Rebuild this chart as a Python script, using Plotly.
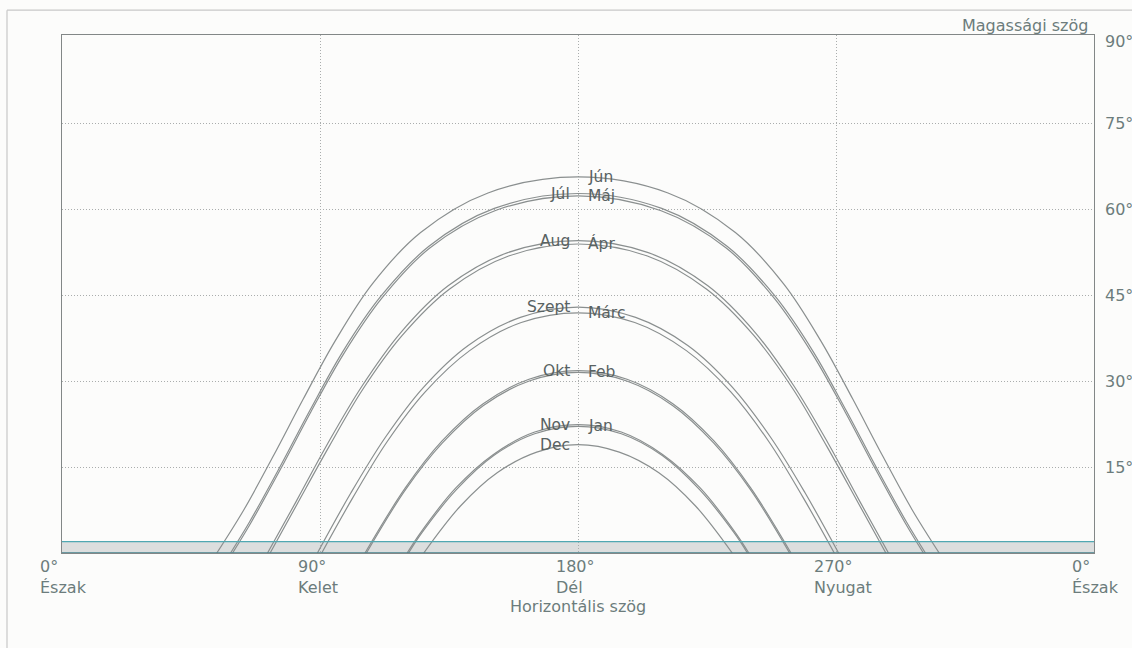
import plotly.graph_objects as go

# Sun path data: morning half (sunrise -> noon), azimuth (deg) and altitude (deg)
months = ["Jún", "Júl", "Máj", "Aug", "Ápr", "Szept", "Márc", "Okt", "Feb", "Nov", "Jan", "Dec"]
label_side = ["right", "left", "right", "left", "right", "left", "right", "left", "right", "left", "right", "left"]

jun_az = [54.0, 63.5, 73.8, 84.2, 95.3, 108.2, 125.1, 148.6, 180]
jun_alt = [0, 7.6, 17.0, 26.9, 37.0, 46.9, 55.9, 62.8, 65.6]
jul_az = [58.8, 65.4, 75.9, 86.5, 97.8, 111.1, 128.0, 150.8, 180]
jul_alt = [0, 5.4, 14.9, 24.9, 35.0, 44.7, 53.5, 60.1, 62.7]
maj_az = [59.5, 65.7, 76.2, 86.8, 98.2, 111.5, 128.3, 151.0, 180]
maj_alt = [0, 5.1, 14.6, 24.6, 34.7, 44.4, 53.2, 59.7, 62.3]
aug_az = [71.7, 81.7, 92.7, 104.5, 118.1, 134.7, 155.5, 180]
aug_alt = [0, 9.0, 19.1, 29.0, 38.4, 46.6, 52.4, 54.5]
apr_az = [72.6, 82.1, 93.2, 105.0, 118.6, 135.1, 155.8, 180]
apr_alt = [0, 8.6, 18.6, 28.6, 37.9, 46.0, 51.8, 53.9]
szept_az = [89.1, 100.8, 112.7, 126.1, 141.7, 159.9, 180]
szept_alt = [0, 10.5, 20.1, 28.9, 36.2, 41.1, 42.9]
marc_az = [90.6, 101.5, 113.4, 126.7, 142.2, 160.2, 180]
marc_alt = [0, 9.7, 19.4, 28.1, 35.3, 40.2, 41.9]
okt_az = [105.7, 119.7, 132.5, 146.8, 162.9, 180]
okt_alt = [0, 11.3, 19.5, 26.0, 30.3, 31.8]
feb_az = [106.2, 119.9, 132.7, 146.9, 163.0, 180]
feb_alt = [0, 11.1, 19.2, 25.7, 30.0, 31.5]
nov_az = [120.4, 125.3, 137.3, 150.5, 164.9, 180]
nov_alt = [0, 3.7, 11.3, 17.2, 21.1, 22.4]
jan_az = [120.9, 125.5, 137.5, 150.6, 164.9, 180]
jan_alt = [0, 3.5, 11.0, 17.0, 20.8, 22.1]
dec_az = [126.2, 139.0, 151.8, 165.6, 180]
dec_alt = [0, 8.2, 14.0, 17.6, 18.9]

all_az = [jun_az, jul_az, maj_az, aug_az, apr_az, szept_az, marc_az, okt_az, feb_az, nov_az, jan_az, dec_az]
all_alt = [jun_alt, jul_alt, maj_alt, aug_alt, apr_alt, szept_alt, marc_alt, okt_alt, feb_alt, nov_alt, jan_alt, dec_alt]

x_ticks = [0, 90, 180, 270, 360]
x_tick_deg = ["0°", "90°", "180°", "270°", "0°"]
x_tick_names = ["Észak", "Kelet", "Dél", "Nyugat", "Észak"]
y_ticks = [15, 30, 45, 60, 75, 90]
horizon_band = [0, 2]

FONT = "DejaVu Sans"
TXT = "rgb(108,124,124)"
LBL = "rgb(88,98,98)"
CURVE = "rgb(138,143,143)"
GRID = "rgb(170,173,173)"

fig = go.Figure()

for name, az, alt in zip(months, all_az, all_alt):
    xs = list(az) + [360 - a for a in reversed(az[:-1])]
    ys = list(alt) + list(reversed(alt[:-1]))
    fig.add_trace(go.Scatter(x=xs, y=ys, mode="lines", line=dict(color=CURVE, width=1.2, shape="spline", smoothing=1.0),
                             hoverinfo="skip", showlegend=False))

# horizon band
fig.add_shape(type="rect", xref="x", yref="y", x0=0, x1=360, y0=horizon_band[0], y1=horizon_band[1],
              fillcolor="rgba(210,212,212,0.75)", line=dict(width=0), layer="below")
fig.add_shape(type="line", xref="x", yref="y", x0=0, x1=360, y0=horizon_band[1], y1=horizon_band[1],
              line=dict(color="rgb(80,168,178)", width=1.3))
fig.add_shape(type="line", xref="x", yref="y", x0=0, x1=360, y0=horizon_band[0], y1=horizon_band[0],
              line=dict(color="rgb(70,130,140)", width=1.3))

# outer page border (left and top)
fig.add_shape(type="line", xref="paper", yref="paper", x0=-0.0533, x1=1.1, y0=1.048, y1=1.048,
              line=dict(color="rgb(200,200,200)", width=1.2))
fig.add_shape(type="line", xref="paper", yref="paper", x0=-0.0533, x1=-0.0533, y0=1.048, y1=-0.3,
              line=dict(color="rgb(200,200,200)", width=1.2))

ann = []
for name, side, alt in zip(months, label_side, all_alt):
    if side == "right":
        ann.append(dict(x=180, y=alt[-1], xref="x", yref="y", text=name, showarrow=False,
                        xanchor="left", yanchor="middle", xshift=8, font=dict(family=FONT, size=15.5, color=LBL)))
    else:
        ann.append(dict(x=180, y=alt[-1], xref="x", yref="y", text=name, showarrow=False,
                        xanchor="right", yanchor="middle", xshift=-6, font=dict(family=FONT, size=15.5, color=LBL)))

for xv, d, n in zip(x_ticks, x_tick_deg, x_tick_names):
    ann.append(dict(x=xv, y=-0.0464, xref="x", yref="paper", text=f"{d}<br>{n}", showarrow=False,
                    xanchor="left", yanchor="middle", align="left", xshift=-24,
                    font=dict(family=FONT, size=16, color=TXT)))

ann.append(dict(x=180, y=-0.0985, xref="x", yref="paper", text="Horizontális szög", showarrow=False,
                xanchor="center", yanchor="middle", yshift=-2, font=dict(family=FONT, size=16, color=TXT)))

for yv in y_ticks:
    ann.append(dict(x=1.0087, y=yv, xref="paper", yref="y", text=f"{yv}°", showarrow=False, xanchor="left",
                    yanchor="middle", yshift=(-4 if yv == 90 else 0), font=dict(family=FONT, size=16, color=TXT)))

ann.append(dict(x=0.9961, y=1.0174, xref="paper", yref="paper", text="Magassági szög", showarrow=False,
                xanchor="right", yanchor="middle", font=dict(family=FONT, size=16, color=TXT)))

fig.update_layout(
    width=1132, height=648,
    margin=dict(l=62, r=38, t=35, b=95),
    paper_bgcolor="rgb(252,252,251)", plot_bgcolor="rgb(252,252,251)",
    annotations=ann,
    xaxis=dict(range=[0, 360], tickvals=[90, 180, 270], showticklabels=False, ticks="",
               showgrid=True, gridcolor=GRID, griddash="1px,2px", gridwidth=1,
               showline=True, linecolor="rgb(130,135,135)", linewidth=1.2, mirror=True, zeroline=False, fixedrange=True),
    yaxis=dict(range=[0, 90.35], tickvals=[15, 30, 45, 60, 75], showticklabels=False, ticks="",
               showgrid=True, gridcolor=GRID, griddash="1px,2px", gridwidth=1,
               showline=True, linecolor="rgb(130,135,135)", linewidth=1.2, mirror=True, zeroline=False, fixedrange=True),
)

fig.write_html("out.html", config={"displayModeBar": False},
               post_script="document.body.style.margin='0';document.body.style.padding='0';document.body.style.overflow='hidden';")
